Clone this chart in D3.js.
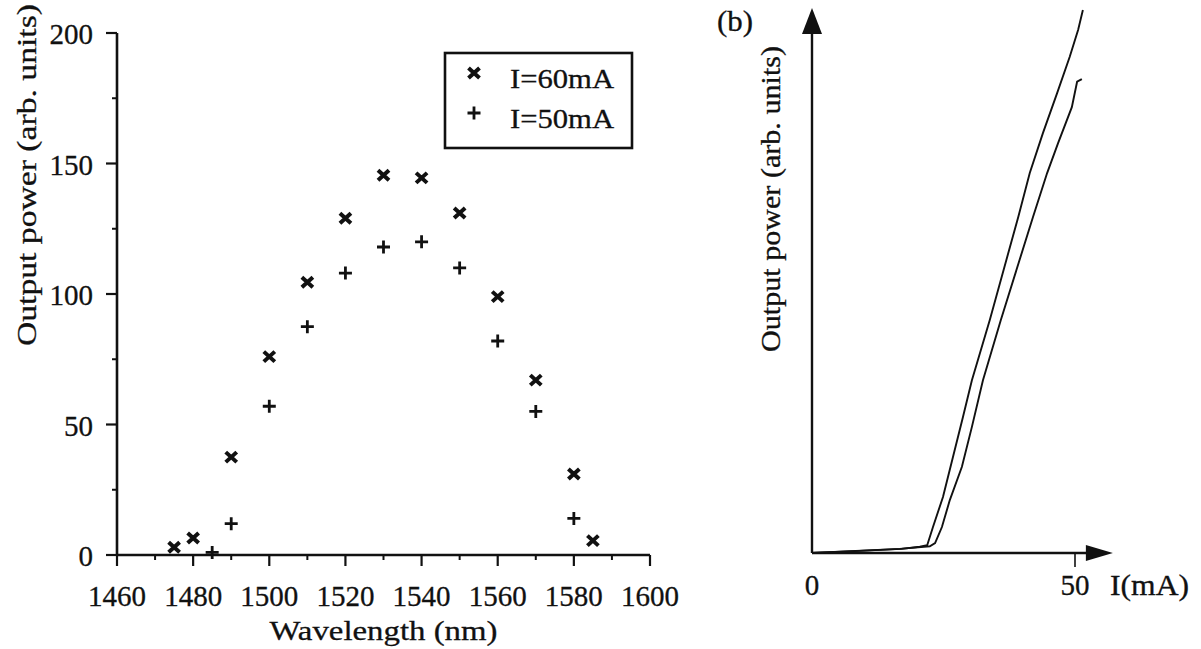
<!DOCTYPE html>
<html>
<head>
<meta charset="utf-8">
<script src="https://cdn.jsdelivr.net/npm/d3@7"></script>
<style>
  body { margin: 0; background: #fff; }
  svg { display: block; }
  text { font-family: "Liberation Serif", "Times New Roman", serif; fill: #111; stroke: #111; stroke-width: 0.3px; }
</style>
</head>
<body>
<div id="chart"></div>
<script>
// (a) spectrum: output power vs wavelength
const wavelengths60 = [1475, 1480, 1490, 1500, 1510, 1520, 1530, 1540, 1550, 1560, 1570, 1580, 1585];
const power60 = [3, 6.5, 37.5, 76, 104.5, 129, 145.5, 144.5, 131, 99, 67, 31, 5.5];
const wavelengths50 = [1485, 1490, 1500, 1510, 1520, 1530, 1540, 1550, 1560, 1570, 1580];
const power50 = [1, 12, 57, 87.5, 108, 118, 120, 110, 82, 55, 14];
const seriesLabels = ["I=60mA", "I=50mA"];
const xTicksA = [1460, 1480, 1500, 1520, 1540, 1560, 1580, 1600];
const yTicksA = [0, 50, 100, 150, 200];

// (b) L-I curves
const currentUpper = [0, 9, 17, 20.5, 21.9, 23.0, 24.9, 26.8, 28.7, 30.4, 33.8, 39.2, 41.4, 43.9, 46.6, 49.0, 50.6, 51.5];
const powerUpper = [0, 0.4, 0.8, 1.2, 1.5, 5.0, 10.8, 18.5, 26.2, 33.3, 44.9, 64.7, 73.2, 80.9, 88.6, 95.6, 100.8, 104.6];
const currentLower = [0, 16.7, 22.4, 23.4, 24.7, 26.2, 28.5, 30.4, 32.5, 35.9, 42.0, 44.7, 46.8, 49.4, 50.4, 51.3];
const powerLower = [0, 0.8, 1.3, 1.9, 5.0, 10.2, 16.6, 24.3, 33.3, 44.9, 64.7, 73.2, 79.0, 85.9, 90.8, 91.3];
const xTicksB = [0, 50];

const svg = d3.select("#chart").append("svg")
    .attr("width", 1201)
    .attr("height", 649);

// ---------- panel (a) ----------
const xA = d3.scaleLinear().domain([1460, 1600]).range([117, 650]);
const yA = d3.scaleLinear().domain([0, 200]).range([555, 33]);

const gA = svg.append("g");

// axis lines
gA.append("line")
    .attr("x1", xA(1460)).attr("x2", xA(1460))
    .attr("y1", yA(0)).attr("y2", yA(200))
    .attr("stroke", "#111").attr("stroke-width", 2.6);
gA.append("line")
    .attr("x1", xA(1460)).attr("x2", xA(1600))
    .attr("y1", yA(0)).attr("y2", yA(0))
    .attr("stroke", "#111").attr("stroke-width", 2.6);

// x ticks (major + minor hanging below)
const xMinorA = d3.range(1470, 1600, 20);
gA.selectAll(".xmaj").data(xTicksA).enter().append("line")
    .attr("x1", d => xA(d)).attr("x2", d => xA(d))
    .attr("y1", yA(0)).attr("y2", yA(0) + 11)
    .attr("stroke", "#111").attr("stroke-width", 2.2);
gA.selectAll(".xmin").data(xMinorA).enter().append("line")
    .attr("x1", d => xA(d)).attr("x2", d => xA(d))
    .attr("y1", yA(0)).attr("y2", yA(0) + 5)
    .attr("stroke", "#111").attr("stroke-width", 2);
gA.selectAll(".xlab").data(xTicksA).enter().append("text")
    .attr("x", d => xA(d))
    .attr("y", 606)
    .attr("text-anchor", "middle")
    .style("font-size", "29px")
    .text(d => d);

// y ticks
const yMinorA = [25, 75, 125, 175];
gA.selectAll(".ymaj").data(yTicksA).enter().append("line")
    .attr("x1", xA(1460) - 11).attr("x2", xA(1460))
    .attr("y1", d => yA(d)).attr("y2", d => yA(d))
    .attr("stroke", "#111").attr("stroke-width", 2.2);
gA.selectAll(".ymin").data(yMinorA).enter().append("line")
    .attr("x1", xA(1460) - 5).attr("x2", xA(1460))
    .attr("y1", d => yA(d)).attr("y2", d => yA(d))
    .attr("stroke", "#111").attr("stroke-width", 2);
gA.selectAll(".ylab").data(yTicksA).enter().append("text")
    .attr("x", 93)
    .attr("y", d => yA(d) + 11)
    .attr("text-anchor", "end")
    .style("font-size", "29px")
    .text(d => d);

// axis titles
gA.append("text")
    .attr("x", xA(1530))
    .attr("y", 640)
    .attr("text-anchor", "middle")
    .attr("textLength", 228)
    .attr("lengthAdjust", "spacingAndGlyphs")
    .style("font-size", "28px")
    .text("Wavelength (nm)");
gA.append("text")
    .attr("transform", "translate(36,175) rotate(-90)")
    .attr("text-anchor", "middle")
    .attr("textLength", 342)
    .attr("lengthAdjust", "spacingAndGlyphs")
    .style("font-size", "28px")
    .text("Output power (arb. units)");

// marker shapes
function drawCross(sel) {
    sel.append("path")
        .attr("d", "M-5.5,-5L5.5,5M-5.5,5L5.5,-5")
        .attr("stroke", "#111").attr("stroke-width", 4).attr("fill", "none");
}
function drawPlus(sel) {
    sel.append("path")
        .attr("d", "M-6.5,0L6.5,0M0,-6.5L0,6.5")
        .attr("stroke", "#111").attr("stroke-width", 2.8).attr("fill", "none");
}

const pts60 = wavelengths60.map((w, i) => ({w: w, p: power60[i]}));
const pts50 = wavelengths50.map((w, i) => ({w: w, p: power50[i]}));

gA.selectAll(".m60").data(pts60).enter().append("g")
    .attr("transform", d => `translate(${xA(d.w)},${yA(d.p)})`)
    .call(drawCross);
gA.selectAll(".m50").data(pts50).enter().append("g")
    .attr("transform", d => `translate(${xA(d.w)},${yA(d.p)})`)
    .call(drawPlus);

// legend
const legend = gA.append("g").attr("transform", "translate(445,53)");
legend.append("rect")
    .attr("width", 187).attr("height", 95)
    .attr("fill", "none").attr("stroke", "#111").attr("stroke-width", 2.6);
legend.selectAll(".lm").data(seriesLabels).enter().append("g")
    .attr("transform", (d, i) => `translate(29,${20 + i * 40})`)
    .each(function(d, i) {
        if (i === 0) d3.select(this).call(drawCross);
        else d3.select(this).call(drawPlus);
    });
legend.selectAll(".lt").data(seriesLabels).enter().append("text")
    .attr("x", 65)
    .attr("y", (d, i) => 35 + i * 40)
    .attr("textLength", 104)
    .attr("lengthAdjust", "spacingAndGlyphs")
    .style("font-size", "28px")
    .text(d => d);

// ---------- panel (b) ----------
const xB = d3.scaleLinear().domain([0, 50]).range([812, 1075]);
const yB = d3.scaleLinear().domain([0, 105]).range([553, 8]);
const xArrowEnd = 57.2, yArrowEnd = 105;

const gB = svg.append("g");

gB.append("line")
    .attr("x1", xB(0)).attr("x2", xB(0))
    .attr("y1", yB(0)).attr("y2", yB(yArrowEnd) + 22)
    .attr("stroke", "#111").attr("stroke-width", 2.4);
gB.append("path")
    .attr("d", `M${xB(0)},${yB(yArrowEnd)}L${xB(0) - 10},${yB(yArrowEnd) + 26}L${xB(0) + 10},${yB(yArrowEnd) + 26}Z`)
    .attr("fill", "#111");
gB.append("line")
    .attr("x1", xB(0)).attr("x2", xB(xArrowEnd) - 22)
    .attr("y1", yB(0)).attr("y2", yB(0))
    .attr("stroke", "#111").attr("stroke-width", 2.4);
gB.append("path")
    .attr("d", `M${xB(xArrowEnd)},${yB(0)}L${xB(xArrowEnd) - 27},${yB(0) - 8}L${xB(xArrowEnd) - 27},${yB(0) + 8}Z`)
    .attr("fill", "#111");

gB.append("line")
    .attr("x1", xB(50)).attr("x2", xB(50))
    .attr("y1", yB(0)).attr("y2", yB(0) + 14)
    .attr("stroke", "#111").attr("stroke-width", 1.6);

gB.selectAll(".xlabB").data(xTicksB).enter().append("text")
    .attr("x", d => xB(d))
    .attr("y", 595)
    .attr("text-anchor", "middle")
    .style("font-size", "29px")
    .text(d => d);
gB.append("text")
    .attr("x", 1110)
    .attr("y", 595)
    .attr("textLength", 79)
    .attr("lengthAdjust", "spacingAndGlyphs")
    .style("font-size", "29px")
    .text("I(mA)");

gB.append("text")
    .attr("transform", "translate(780,199) rotate(-90)")
    .attr("text-anchor", "middle")
    .attr("textLength", 306)
    .attr("lengthAdjust", "spacingAndGlyphs")
    .style("font-size", "27px")
    .text("Output power (arb. units)");

gB.append("text")
    .attr("x", 717)
    .attr("y", 31)
    .attr("textLength", 36)
    .attr("lengthAdjust", "spacingAndGlyphs")
    .style("font-size", "29px")
    .text("(b)");

const lineB = d3.line()
    .x(d => xB(d[0]))
    .y(d => yB(d[1]));

gB.append("path")
    .datum(currentUpper.map((c, i) => [c, powerUpper[i]]))
    .attr("d", lineB)
    .attr("fill", "none").attr("stroke", "#111").attr("stroke-width", 1.9);
gB.append("path")
    .datum(currentLower.map((c, i) => [c, powerLower[i]]))
    .attr("d", lineB)
    .attr("fill", "none").attr("stroke", "#111").attr("stroke-width", 1.9);
</script>
</body>
</html>
